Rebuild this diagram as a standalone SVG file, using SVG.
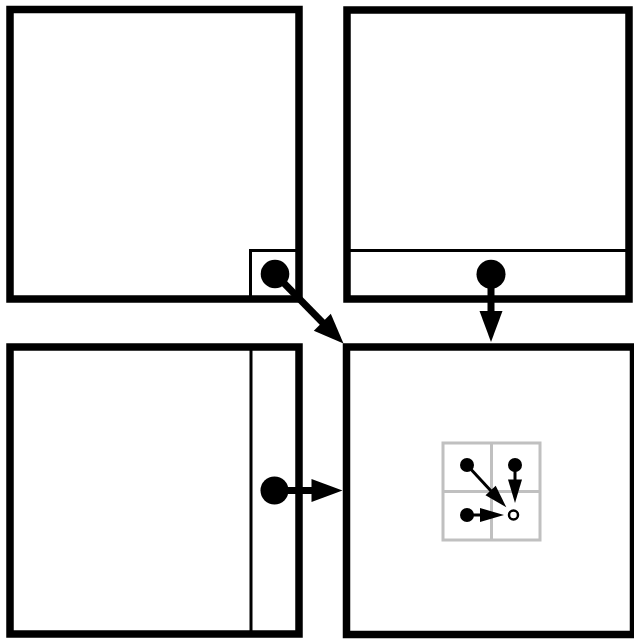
<svg xmlns="http://www.w3.org/2000/svg" width="634" height="639" viewBox="0 0 634 639">
  <style>
    .box { fill: #ffffff; stroke: #000000; stroke-width: 7.5; }
    .inner { fill: none; stroke: #000000; stroke-width: 3; }
    .grid { fill: #ffffff; stroke: #c0c0c0; stroke-width: 3; }
    .dot { fill: #000000; }
    .open { fill: #ffffff; stroke: #000000; stroke-width: 2.5; }
    .shaft { stroke: #000000; stroke-width: 7; fill: none; }
    .sshaft { stroke: #000000; stroke-width: 3; fill: none; }
    .head { fill: #000000; stroke: none; }
  </style>
  <rect width="634" height="639" fill="#ffffff"/>

  <g id="box-top-left">
    <rect class="box" x="10" y="9.5" width="289" height="289.5"/>
    <rect class="inner" x="250.5" y="250.5" width="48.5" height="48.5"/>
  </g>
  <g id="box-top-right">
    <rect class="box" x="347" y="10" width="282" height="289"/>
    <line class="inner" x1="347" y1="250.5" x2="629" y2="250.5"/>
  </g>
  <g id="box-bottom-left">
    <rect class="box" x="10" y="347" width="289" height="287"/>
    <line class="inner" x1="251" y1="347" x2="251" y2="634"/>
  </g>
  <g id="box-bottom-right">
    <rect class="box" x="346.5" y="347" width="287" height="287.5"/>
    <g id="mini-grid">
      <rect class="grid" x="443" y="443" width="97" height="97"/>
      <line class="grid" x1="491.5" y1="443" x2="491.5" y2="540"/>
      <line class="grid" x1="443" y1="491.5" x2="540" y2="491.5"/>
    </g>
  </g>

  <g id="connectors">
    <!-- diagonal from top-left -->
    <circle class="dot" cx="275" cy="274" r="14.3"/>
    <line class="shaft" x1="275" y1="274" x2="324" y2="324"/>
    <polygon class="head" points="313.8,330.8 330.8,313.8 343.5,343.5"/>
    <!-- down from top-right -->
    <circle class="dot" cx="491" cy="274.3" r="14.5"/>
    <line class="shaft" x1="491" y1="274.3" x2="491" y2="312"/>
    <polygon class="head" points="479.5,311 502.5,311 491,342"/>
    <!-- right from bottom-left -->
    <circle class="dot" cx="274.5" cy="490.5" r="14"/>
    <line class="shaft" x1="274.5" y1="490.5" x2="312.5" y2="490.5"/>
    <polygon class="head" points="311.5,479 311.5,502 342.5,490.5"/>

    <!-- mini grid arrows -->
    <circle class="dot" cx="467" cy="465" r="7"/>
    <line class="sshaft" x1="467" y1="465" x2="491.5" y2="491.5"/>
    <polygon class="head" points="485.5,495.3 495.7,485.7 506.3,507.3"/>
    <circle class="dot" cx="515" cy="465" r="7"/>
    <line class="sshaft" x1="515" y1="465" x2="515" y2="481"/>
    <polygon class="head" points="508,479.5 522,479.5 515,503"/>
    <circle class="dot" cx="467" cy="515" r="7"/>
    <line class="sshaft" x1="467" y1="515" x2="481" y2="515"/>
    <polygon class="head" points="480,508 480,522 504,515"/>
    <circle class="open" cx="513.5" cy="515" r="4.5"/>
  </g>
</svg>
